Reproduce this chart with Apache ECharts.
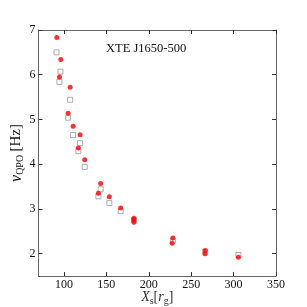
<!DOCTYPE html>
<html><head><meta charset="utf-8">
<script src="https://cdn.jsdelivr.net/npm/echarts@6/dist/echarts.min.js"></script>
<style>html,body{margin:0;padding:0;background:#fff}#c{width:307px;height:307px}</style>
</head><body><div id="c"></div>
<script>
var redX = [91.6, 96.3, 94.7, 107.3, 104.9, 110.8, 119.0, 117.0, 124.5, 143.3, 140.6, 153.5, 166.9, 182.5, 182.5, 182.5, 228.4, 227.6, 266.5, 266.3, 305.7];
var redY = [6.83, 6.34, 5.95, 5.72, 5.14, 4.85, 4.66, 4.36, 4.10, 3.57, 3.35, 3.27, 3.02, 2.79, 2.75, 2.70, 2.35, 2.23, 2.07, 2.00, 1.92];
var grayX = [91.2, 95.9, 94.7, 107.3, 104.9, 110.8, 119.0, 117.0, 124.5, 143.3, 140.6, 153.5, 166.9, 182.5, 228.4, 266.5, 305.7];
var grayY = [6.50, 6.07, 5.84, 5.44, 5.04, 4.65, 4.47, 4.29, 3.94, 3.44, 3.28, 3.13, 2.95, 2.75, 2.29, 2.04, 1.97];
var xTicks = [100, 150, 200, 250, 300, 350];
var yTicks = [2, 3, 4, 5, 6, 7];
var title = 'XTE J1650-500';

function pairs(xs, ys){ return xs.map(function(x,i){ return [x, ys[i]]; }); }
var serif = 'Liberation Serif';
var axisCol = '#666';
function baseAxis(extra){
  var a = {
    axisLine:{show:true,onZero:false,lineStyle:{color:axisCol,width:1}},
    splitLine:{show:false}
  };
  for (var k in extra) a[k]=extra[k];
  return a;
}
var tick = function(vals){ return {show:true,inside:true,length:4,lineStyle:{color:'#333',width:1},customValues:vals}; };
var lab = function(vals){ return {color:'#111',fontFamily:serif,fontSize:12,margin:3,customValues:vals}; };
var chart = echarts.init(document.getElementById('c'));
chart.setOption({
  animation:false,
  grid:{left:38.5,right:31,top:30,bottom:31,containLabel:false,outerBoundsMode:'none'},
  xAxis:[
    baseAxis({type:'value',min:70,max:350,position:'bottom',
      axisLabel:lab(xTicks), axisTick:tick(xTicks),
      name:'{i|X}{sub|s}{n|[}{i|r}{sub|g}{n|]}',nameLocation:'middle',nameGap:13,nameMoveOverlap:false,
      nameTextStyle:{rich:{
        i:{fontFamily:serif,fontStyle:'italic',fontSize:14,color:'#333'},
        n:{fontFamily:serif,fontSize:14,color:'#333'},
        sub:{fontFamily:serif,fontSize:10,color:'#333',padding:[7,0,0,0]}
      }}}),
    baseAxis({type:'value',min:70,max:350,position:'top',
      axisLabel:{show:false}, axisTick:tick(xTicks)})
  ],
  yAxis:[
    baseAxis({type:'value',min:1.5,max:7,position:'left',
      axisLabel:lab(yTicks), axisTick:tick(yTicks),
      name:'{i|ν}{sub|QPO} {n|[Hz]}',nameLocation:'middle',nameGap:13,nameRotate:90,nameMoveOverlap:false,
      nameTextStyle:{rich:{
        i:{fontFamily:serif,fontStyle:'italic',fontSize:16,color:'#111'},
        n:{fontFamily:serif,fontSize:15,color:'#111'},
        sub:{fontFamily:serif,fontSize:10,color:'#111',padding:[8,0,0,0]}
      }}}),
    baseAxis({type:'value',min:1.5,max:7,position:'right',
      axisLabel:{show:false}, axisTick:tick(yTicks)})
  ],
  graphic:[{type:'text',left:106,top:42,style:{text:title,fontFamily:serif,fontSize:12.5,fill:'#111'}}],
  series:[
    {type:'scatter',data:pairs(grayX,grayY),symbol:'rect',symbolSize:5,
      itemStyle:{color:'#fff',borderColor:'#999',borderWidth:1}},
    {type:'scatter',data:pairs(redX,redY),symbol:'circle',symbolSize:5,
      itemStyle:{color:'#ff0000'}}
  ]
});
</script></body></html>
